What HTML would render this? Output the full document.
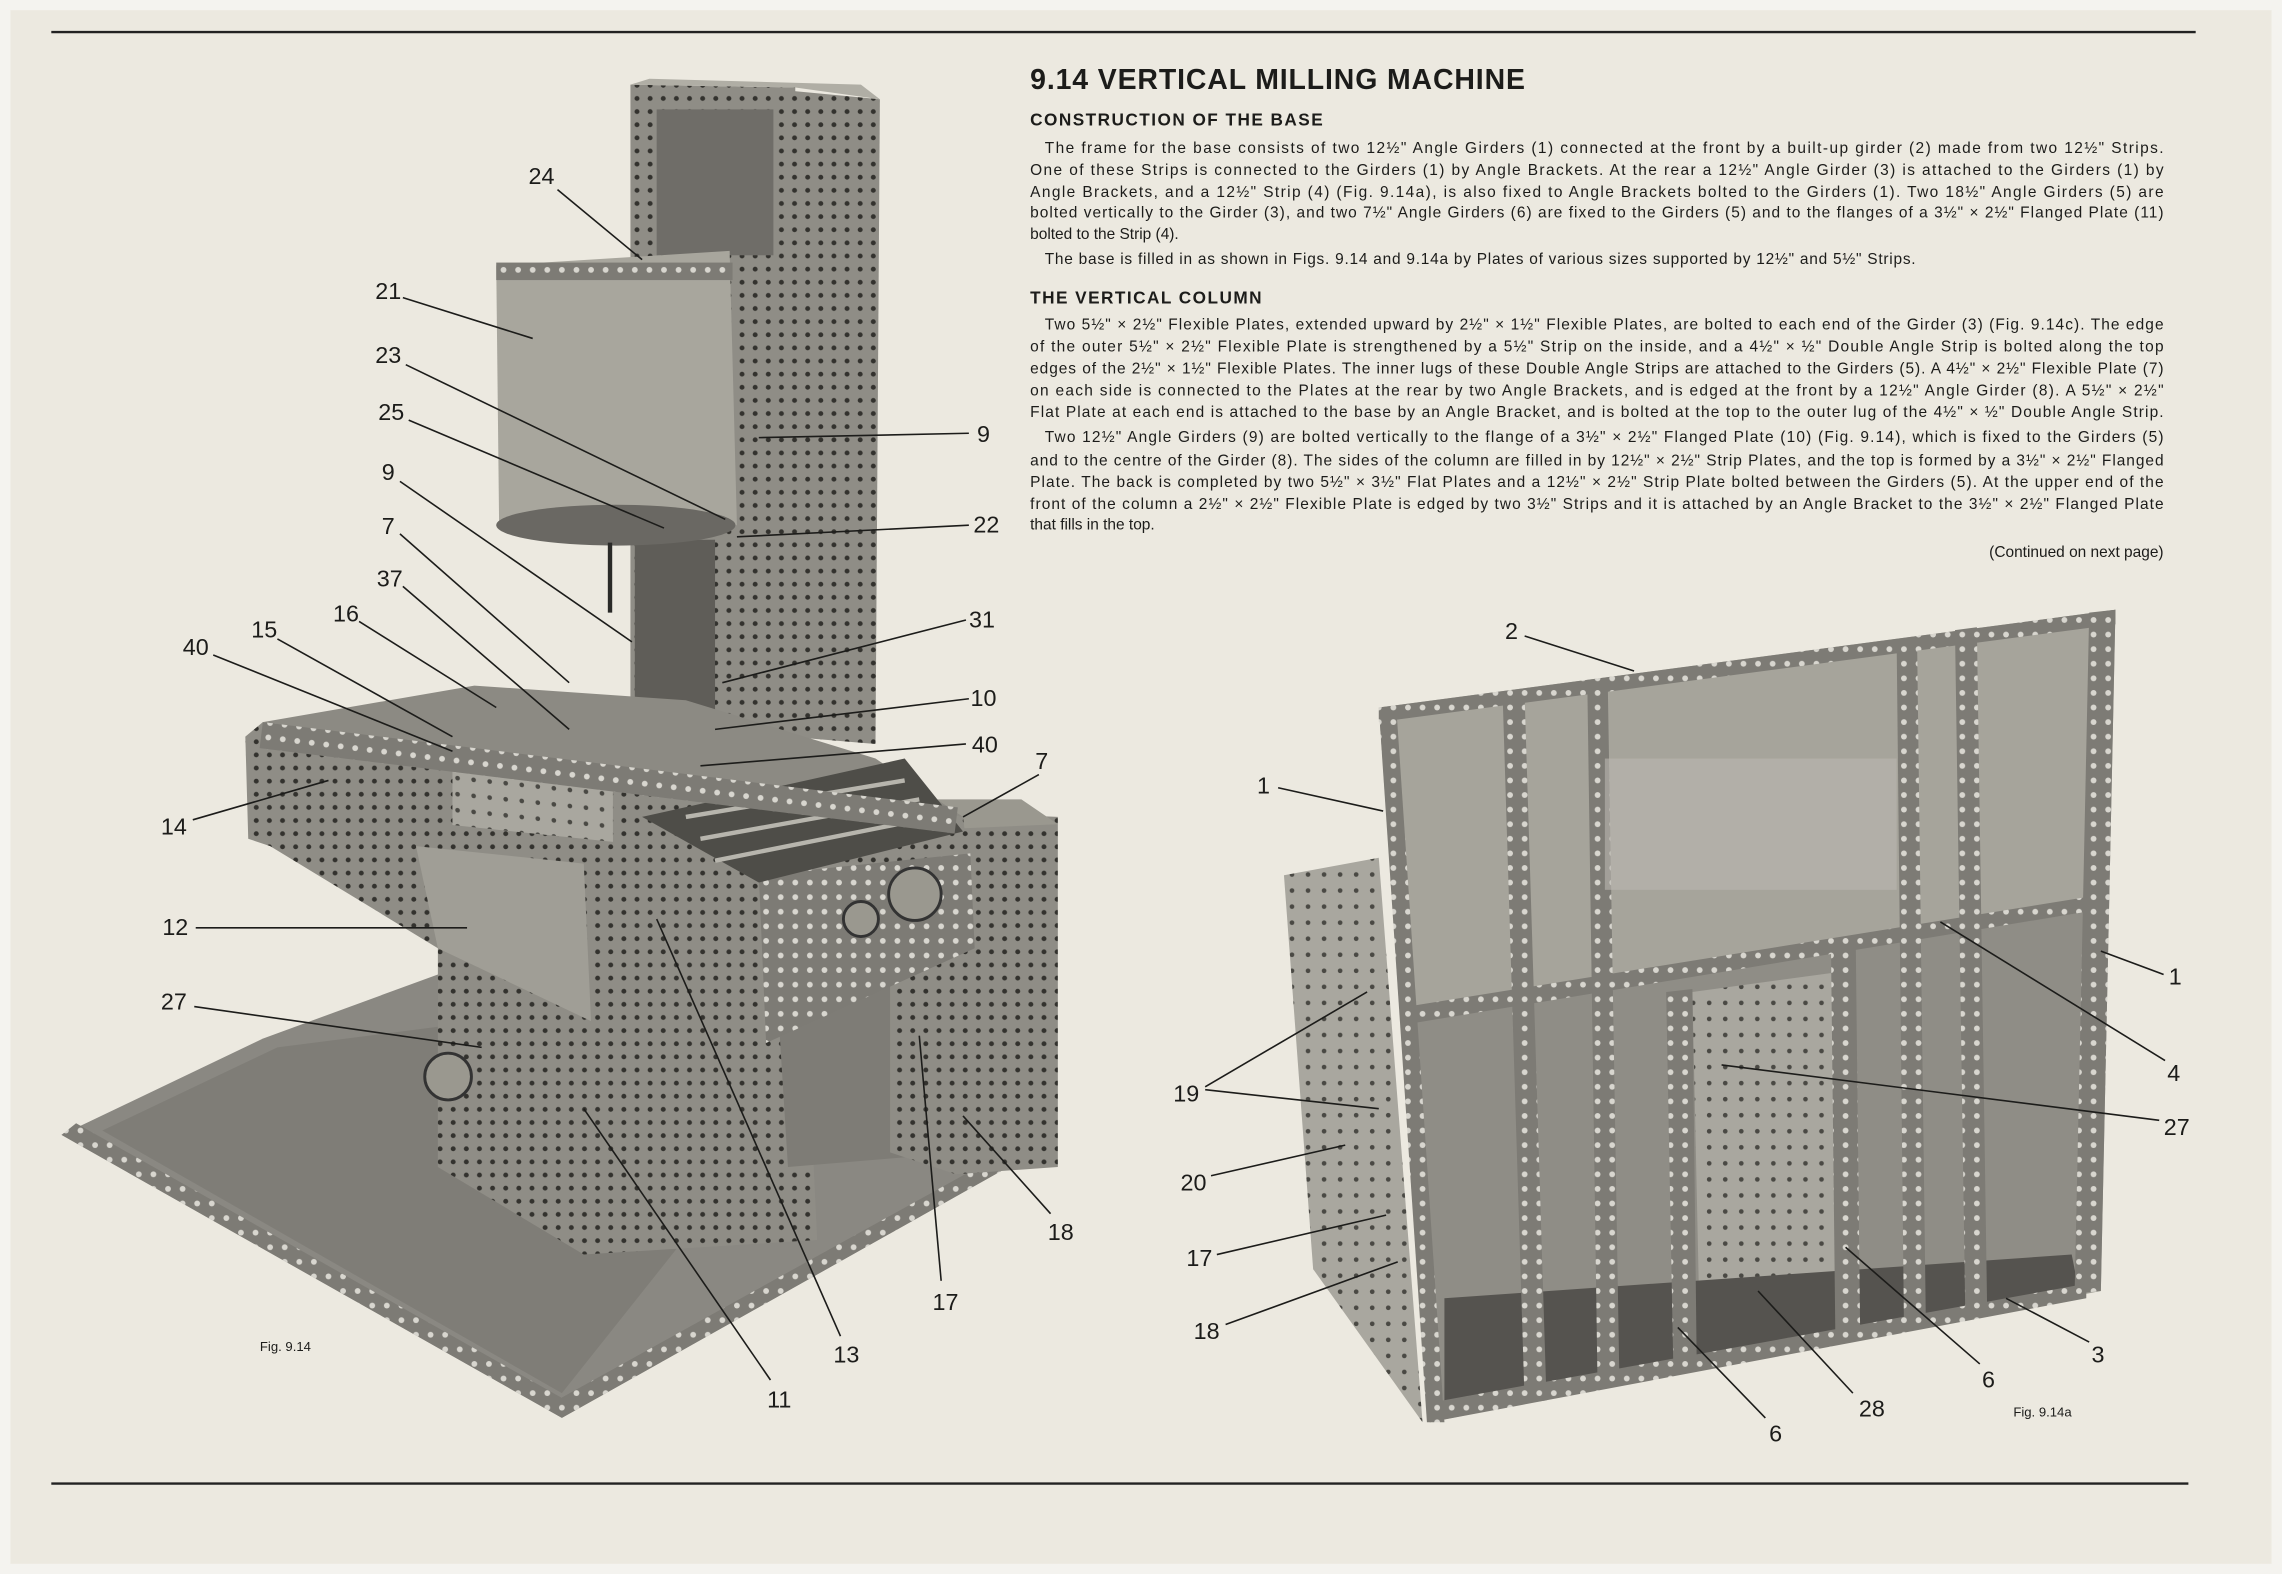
<!DOCTYPE html>
<html><head><meta charset="utf-8"><style>
html,body{margin:0;padding:0;background:#ece9e0;}
svg{display:block}
text{font-family:"Liberation Sans",sans-serif;fill:#1c1c1a}
.b{font-size:10.6px}
.lb{font-size:16px}
.ll{stroke:#1c1c1a;stroke-width:1.1;fill:none}
</style></head><body>
<svg width="2282" height="1574" viewBox="0 0 1564 1079" xmlns="http://www.w3.org/2000/svg">
<defs>
<pattern id="h" width="9" height="9" patternUnits="userSpaceOnUse"><rect width="9" height="9" fill="#8f8d86"/><circle cx="4.5" cy="4.5" r="1.7" fill="#33322e"/></pattern>
<pattern id="hl" width="11" height="11" patternUnits="userSpaceOnUse"><rect width="11" height="11" fill="#a9a79f"/><circle cx="5.5" cy="5.5" r="1.6" fill="#4a4944"/></pattern>
<pattern id="st" width="10" height="10" patternUnits="userSpaceOnUse"><rect width="10" height="10" fill="#7d7b75"/><circle cx="5" cy="5" r="2" fill="#d8d6cf"/></pattern>
</defs>
<rect width="1564" height="1079" fill="#ece9e0"/>
<rect x="0" y="0" width="1564" height="1079" fill="none" stroke="#f4f3ef" stroke-width="14"/>
<line x1="35" y1="22" x2="1505" y2="22" stroke="#222" stroke-width="1.6"/>
<line x1="35" y1="1017" x2="1500" y2="1017" stroke="#222" stroke-width="1.6"/>

<!-- TEXT -->
<text x="706" y="61" style="font-size:19.5px;font-weight:bold;letter-spacing:0.6px">9.14  VERTICAL MILLING MACHINE</text>
<text x="706" y="86" style="font-size:11.8px;font-weight:bold;letter-spacing:1px">CONSTRUCTION OF THE BASE</text>
<g class="b">
<text x="716" y="105" textLength="767" lengthAdjust="spacing">The frame for the base consists of two 12½" Angle Girders (1) connected at the front by a built-up girder (2) made from two 12½" Strips.</text>
<text x="706" y="120" textLength="777" lengthAdjust="spacing">One of these Strips is connected to the Girders (1) by Angle Brackets. At the rear a 12½" Angle Girder (3) is attached to the Girders (1) by</text>
<text x="706" y="135" textLength="777" lengthAdjust="spacing">Angle Brackets, and a 12½" Strip (4) (Fig. 9.14a), is also fixed to Angle Brackets bolted to the Girders (1). Two 18½" Angle Girders (5) are</text>
<text x="706" y="149" textLength="777" lengthAdjust="spacing">bolted vertically to the Girder (3), and two 7½" Angle Girders (6) are fixed to the Girders (5) and to the flanges of a 3½" × 2½" Flanged Plate (11)</text>
<text x="706" y="164">bolted to the Strip (4).</text>
<text x="716" y="181" textLength="597" lengthAdjust="spacing">The base is filled in as shown in Figs. 9.14 and 9.14a by Plates of various sizes supported by 12½" and 5½" Strips.</text>
</g>
<text x="706" y="208" style="font-size:11.8px;font-weight:bold;letter-spacing:1px">THE VERTICAL COLUMN</text>
<g class="b">
<text x="716" y="226" textLength="767" lengthAdjust="spacing">Two 5½" × 2½" Flexible Plates, extended upward by 2½" × 1½" Flexible Plates, are bolted to each end of the Girder (3) (Fig. 9.14c). The edge</text>
<text x="706" y="241" textLength="777" lengthAdjust="spacing">of the outer 5½" × 2½" Flexible Plate is strengthened by a 5½" Strip on the inside, and a 4½" × ½" Double Angle Strip is bolted along the top</text>
<text x="706" y="256" textLength="777" lengthAdjust="spacing">edges of the 2½" × 1½" Flexible Plates. The inner lugs of these Double Angle Strips are attached to the Girders (5). A 4½" × 2½" Flexible Plate (7)</text>
<text x="706" y="271" textLength="777" lengthAdjust="spacing">on each side is connected to the Plates at the rear by two Angle Brackets, and is edged at the front by a 12½" Angle Girder (8). A 5½" × 2½"</text>
<text x="706" y="286" textLength="777" lengthAdjust="spacing">Flat Plate at each end is attached to the base by an Angle Bracket, and is bolted at the top to the outer lug of the 4½" × ½" Double Angle Strip.</text>
<text x="716" y="303" textLength="767" lengthAdjust="spacing">Two 12½" Angle Girders (9) are bolted vertically to the flange of a 3½" × 2½" Flanged Plate (10) (Fig. 9.14), which is fixed to the Girders (5)</text>
<text x="706" y="319" textLength="777" lengthAdjust="spacing">and to the centre of the Girder (8). The sides of the column are filled in by 12½" × 2½" Strip Plates, and the top is formed by a 3½" × 2½" Flanged</text>
<text x="706" y="334" textLength="777" lengthAdjust="spacing">Plate. The back is completed by two 5½" × 3½" Flat Plates and a 12½" × 2½" Strip Plate bolted between the Girders (5). At the upper end of the</text>
<text x="706" y="349" textLength="777" lengthAdjust="spacing">front of the column a 2½" × 2½" Flexible Plate is edged by two 3½" Strips and it is attached by an Angle Bracket to the 3½" × 2½" Flanged Plate</text>
<text x="706" y="363">that fills in the top.</text>
<text x="1483" y="382" text-anchor="end">(Continued on next page)</text>
</g>

<!-- LEFT FIGURE -->
<!-- base plate -->
<polygon points="42,778 385,972 700,795 545,700 300,668 180,712" fill="#8a8882"/>
<polygon points="42,778 385,972 388,960 52,770" fill="url(#st)"/>
<polygon points="385,972 700,795 692,788 385,958" fill="url(#st)"/>
<polygon points="70,775 190,718 330,700 540,760 385,955" fill="#7f7d77"/>
<!-- lower housing -->
<polygon points="300,640 550,640 560,850 400,860 300,800" fill="url(#h)"/>
<polygon points="530,640 660,640 660,790 540,800" fill="#7e7c76"/>
<!-- right box -->
<polygon points="610,555 725,560 725,800 655,805 610,790" fill="url(#h)"/>
<polygon points="560,548 700,548 725,565 610,570" fill="#9a988f"/>
<!-- column -->
<polygon points="432,58 545,60 545,505 432,500" fill="url(#h)"/>
<polygon points="540,62 603,68 600,510 540,505" fill="url(#h)"/>
<polygon points="432,58 545,60 603,68 590,58 445,54" fill="#b0aea5"/>
<rect x="450" y="75" width="80" height="100" fill="#6f6d68"/>
<rect x="435" y="370" width="55" height="120" fill="#5f5d58"/>
<!-- motor -->
<path d="M340,182 L500,172 L505,360 Q420,380 342,362 Z" fill="#a8a69d"/>
<rect x="340" y="180" width="162" height="12" fill="url(#st)"/>
<ellipse cx="422" cy="360" rx="82" ry="14" fill="#6a6863"/>
<line x1="418" y1="372" x2="418" y2="420" stroke="#2a2a28" stroke-width="3"/>
<!-- table / saddle -->
<polygon points="168,505 180,495 660,560 665,600 520,690 520,720 410,700 300,650 185,580 170,575" fill="url(#h)"/>
<polygon points="180,495 325,470 470,480 600,520 660,560" fill="#8c8a83"/>
<rect x="310" y="488" width="110" height="45" fill="url(#hl)" transform="skewY(6)"/>
<polygon points="285,580 400,592 405,700 300,650" fill="#a09e96"/>
<polygon points="520,600 665,585 668,650 525,715" fill="url(#st)"/>
<polygon points="440,560 620,520 660,570 520,605" fill="#4e4d48"/>
<g stroke="#b7b5ad" stroke-width="3"><line x1="470" y1="560" x2="620" y2="535"/><line x1="480" y1="575" x2="630" y2="548"/><line x1="490" y1="590" x2="640" y2="560"/></g>
<circle cx="627" cy="613" r="18" fill="#9a988f" stroke="#333" stroke-width="2"/>
<circle cx="590" cy="630" r="12" fill="#9a988f" stroke="#333" stroke-width="2"/>
<circle cx="307" cy="738" r="16" fill="#9a988f" stroke="#333" stroke-width="2"/>
<rect x="180" y="495" width="480" height="18" fill="url(#st)" transform="rotate(7 180 495)"/>

<!-- RIGHT FIGURE -->
<polygon points="880,600 945,588 975,975 900,870" fill="url(#hl)"/>
<polygon points="945,485 1450,418 1440,885 980,975" fill="#a6a49b"/>
<polygon points="965,700 1430,625 1425,885 990,970" fill="#8f8d86"/>
<polygon points="1160,680 1270,665 1270,900 1165,910" fill="url(#hl)"/>
<polygon points="990,890 1420,860 1425,885 990,970" fill="#55534f"/>
<g fill="url(#st)">
<polygon points="945,485 1450,418 1450,428 945,495"/>
<polygon points="945,485 957,485 990,975 978,975"/>
<polygon points="1432,420 1450,418 1440,885 1422,887"/>
<polygon points="965,690 1430,615 1430,625 965,702"/>
<polygon points="978,962 1430,880 1430,890 980,975"/>
<polygon points="1030,480 1045,478 1060,960 1045,962"/>
<polygon points="1088,472 1102,470 1110,950 1095,952"/>
<polygon points="1142,680 1160,678 1163,940 1147,942"/>
<polygon points="1255,650 1272,648 1275,915 1258,917"/>
<polygon points="1300,440 1314,438 1320,905 1305,907"/>
<polygon points="1340,432 1355,430 1362,895 1347,897"/>
</g>
<rect x="1100" y="520" width="200" height="90" fill="#bab8b0" opacity="0.6"/>

<!-- LABELS & LEADERS -->
<g class="ll">
<line x1="382" y1="130" x2="440" y2="178"/>
<line x1="276" y1="204" x2="365" y2="232"/>
<line x1="278" y1="250" x2="497" y2="356"/>
<line x1="280" y1="288" x2="455" y2="362"/>
<line x1="274" y1="330" x2="433" y2="440"/>
<line x1="274" y1="366" x2="390" y2="468"/>
<line x1="276" y1="402" x2="390" y2="500"/>
<line x1="246" y1="426" x2="340" y2="485"/>
<line x1="190" y1="438" x2="310" y2="505"/>
<line x1="146" y1="449" x2="310" y2="515"/>
<line x1="132" y1="562" x2="225" y2="535"/>
<line x1="134" y1="636" x2="320" y2="636"/>
<line x1="133" y1="690" x2="330" y2="718"/>
<line x1="520" y1="300" x2="664" y2="297"/>
<line x1="505" y1="368" x2="664" y2="360"/>
<line x1="495" y1="468" x2="662" y2="425"/>
<line x1="490" y1="500" x2="664" y2="479"/>
<line x1="480" y1="525" x2="662" y2="510"/>
<line x1="660" y1="560" x2="712" y2="531"/>
<line x1="660" y1="765" x2="720" y2="832"/>
<line x1="630" y1="710" x2="645" y2="878"/>
<line x1="450" y1="630" x2="576" y2="916"/>
<line x1="400" y1="760" x2="528" y2="946"/>
<line x1="1045" y1="436" x2="1120" y2="460"/>
<line x1="876" y1="540" x2="948" y2="556"/>
<line x1="1440" y1="652" x2="1483" y2="668"/>
<line x1="1330" y1="632" x2="1484" y2="727"/>
<line x1="1180" y1="730" x2="1480" y2="768"/>
<line x1="826" y1="745" x2="937" y2="680"/>
<line x1="826" y1="747" x2="945" y2="760"/>
<line x1="830" y1="806" x2="922" y2="785"/>
<line x1="834" y1="860" x2="950" y2="833"/>
<line x1="840" y1="908" x2="958" y2="865"/>
<line x1="1150" y1="910" x2="1210" y2="972"/>
<line x1="1205" y1="885" x2="1270" y2="955"/>
<line x1="1265" y1="855" x2="1357" y2="935"/>
<line x1="1375" y1="890" x2="1432" y2="920"/>
</g>
<g class="lb" text-anchor="middle">
<text x="371" y="126">24</text>
<text x="266" y="205">21</text>
<text x="266" y="249">23</text>
<text x="268" y="288">25</text>
<text x="266" y="329">9</text>
<text x="266" y="366">7</text>
<text x="267" y="402">37</text>
<text x="237" y="426">16</text>
<text x="181" y="437">15</text>
<text x="134" y="449">40</text>
<text x="119" y="572">14</text>
<text x="120" y="641">12</text>
<text x="119" y="692">27</text>
<text x="674" y="303">9</text>
<text x="676" y="365">22</text>
<text x="673" y="430">31</text>
<text x="674" y="484">10</text>
<text x="675" y="516">40</text>
<text x="714" y="527">7</text>
<text x="727" y="850">18</text>
<text x="648" y="898">17</text>
<text x="580" y="934">13</text>
<text x="534" y="965">11</text>
<text x="1036" y="438">2</text>
<text x="866" y="544">1</text>
<text x="1491" y="675">1</text>
<text x="1490" y="741">4</text>
<text x="1492" y="778">27</text>
<text x="813" y="755">19</text>
<text x="818" y="816">20</text>
<text x="822" y="868">17</text>
<text x="827" y="918">18</text>
<text x="1217" y="988">6</text>
<text x="1283" y="971">28</text>
<text x="1363" y="951">6</text>
<text x="1438" y="934">3</text>
</g>
<text x="178" y="926" style="font-size:9px">Fig. 9.14</text>
<text x="1380" y="971" style="font-size:9px">Fig. 9.14a</text>
</svg>
</body></html>
